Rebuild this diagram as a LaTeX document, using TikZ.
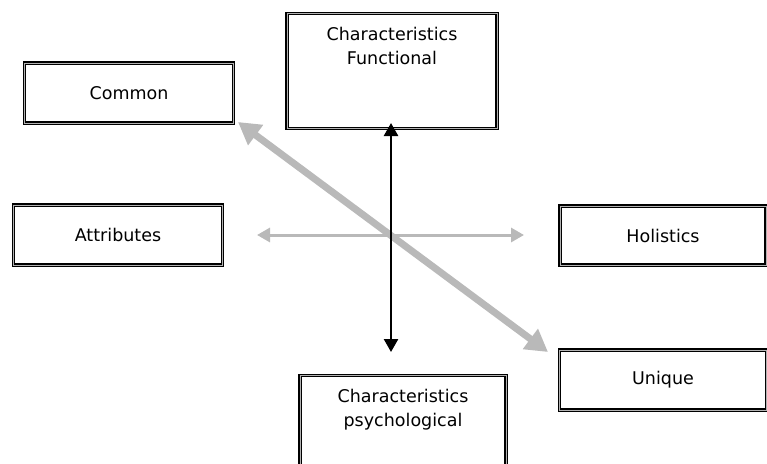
\documentclass[tikz,border=0pt]{standalone}
\usepackage{fontspec}
\setmainfont{DejaVu Sans}
\usetikzlibrary{arrows.meta,positioning}
\tikzset{dbox/.style={draw=black, line width=1.1pt, double=gray!60, double distance=1pt,
    fill=white, inner sep=0pt, align=center, font=\fontsize{17.5}{24}\selectfont}}
\tikzset{blk/.style={line width=2.5pt, black, {Triangle[length=13pt,width=14pt]}-{Triangle[length=13pt,width=14pt]}}}
\tikzset{gry/.style={line width=3pt, gray!55, {Triangle[length=13pt,width=14pt]}-{Triangle[length=13pt,width=14pt]}}}
\tikzset{gryb/.style={line width=7pt, gray!55, {Triangle[length=22pt,width=24pt]}-{Triangle[length=22pt,width=24pt]}}}

\begin{document}
\begin{tikzpicture}[x=1pt, y=-1pt]
                        \useasboundingbox (0,0) rectangle (767,463);

                        \node[dbox, minimum width=209pt, minimum height=60pt] (com) at (129, 93) {Common};
                        \node[dbox, minimum width=209pt, minimum height=60pt] (att) at (118, 235) {Attributes};
                        \node[dbox, minimum width=206pt, minimum height=59pt] (hol) at (663, 235.5) {Holistics};
                        \node[dbox, minimum width=207pt, minimum height=60pt] (uni) at (663, 380) {Unique};
                        \node[dbox, anchor=north, minimum width=210pt, inner ysep=14pt, text depth=50pt] (fun) at (392, 13) {Characteristics\\Functional};
                        \node[dbox, anchor=north, minimum width=206pt, inner ysep=14pt, text depth=50pt] (psy) at (403, 375) {Characteristics\\psychological};

                        \coordinate (vt) at (391, 123);
                        \coordinate (vb) at (391, 352);
                        \coordinate (hl) at (257, 235);
                        \coordinate (hr) at (524, 235);
                        \coordinate (dl) at (238, 122);
                        \coordinate (dr) at (548, 352);

                        \draw[gryb] (dl) -- (dr);
                        \draw[gry] (hl) -- (hr);
                        \draw[blk] (vt) -- (vb);
                    \end{tikzpicture}
\end{document}
